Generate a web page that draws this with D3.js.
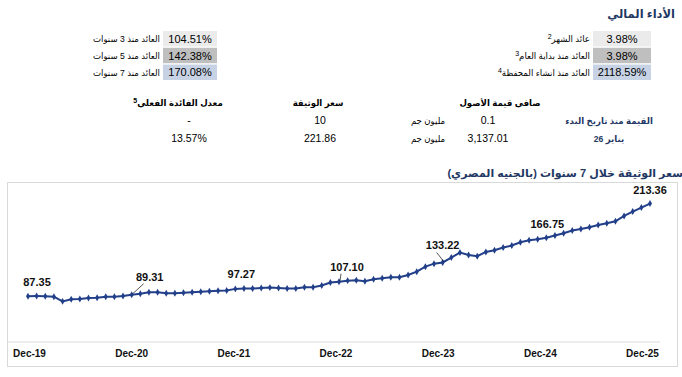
<!DOCTYPE html>
<html>
<head>
<meta charset="utf-8">
<script src="https://cdn.jsdelivr.net/npm/d3@7"></script>
<style>
  body { margin: 0; background: #fff; }
  svg { font-family: "Liberation Sans", Arial, "DejaVu Sans", sans-serif; }
</style>
</head>
<body>
<div id="chart"></div>
<script>
// performance blocks
const perfRightLabels = ["عائد الشهر", "العائد منذ بداية العام", "العائد منذ انشاء المحفظة"];
const perfRightNotes = ["2", "3", "4"];
const perfRightValues = ["3.98%", "3.98%", "2118.59%"];
const perfLeftLabels = ["العائد منذ 3 سنوات", "العائد منذ 5 سنوات", "العائد منذ 7 سنوات"];
const perfLeftValues = ["104.51%", "142.38%", "170.08%"];

// info table
const infoHeaders = ["صافي قيمة الأصول", "سعر الوثيقة", "معدل الفائدة الفعلي"];
const infoRowNames = ["القيمة منذ تاريخ البدء", "يناير 26"];
const navValues = ["0.1", "3,137.01"];
const navUnit = "مليون جم";
const unitPrices = ["10", "221.86"];
const effRates = ["-", "13.57%"];

// unit price, monthly Dec-19 .. Dec-25
const yearLabels = ["Dec-19", "Dec-20", "Dec-21", "Dec-22", "Dec-23", "Dec-24", "Dec-25"];
const prices = [
    87.35, 87.5, 87.4, 86.6, 80.3, 83.2, 83.4, 85.0, 85.2, 86.5, 86.7, 87.6,
    89.31, 90.8, 92.6, 92.7, 91.2, 91.4, 92.0, 92.7, 93.5, 94.0, 94.6, 95.2,
    97.27, 97.7, 97.7, 98.6, 99.0, 98.6, 97.9, 97.9, 99.6, 99.6, 101.8, 105.9,
    107.10, 108.5, 109.0, 107.6, 110.4, 111.7, 113.1, 113.1, 116.2, 120.7, 127.5, 131.6,
    133.22, 139.9, 146.7, 143.5, 141.7, 147.6, 149.9, 153.5, 156.3, 160.7, 163.5, 164.8,
    166.75, 169.9, 173.0, 176.7, 178.8, 181.1, 184.3, 186.6, 189.3, 196.5, 202.5, 207.9,
    213.36
];
const labelled = [0, 12, 24, 36, 48, 60, 72];

const width = 682, height = 377;
const navy = "#1f3864";
const lineColor = "#223f8a";

const svg = d3.select("#chart").append("svg")
    .attr("width", width)
    .attr("height", height);

// heading
svg.append("text")
    .attr("x", 675).attr("y", 18)
    .attr("text-anchor", "end")
    .attr("font-size", 11.5).attr("font-weight", "bold")
    .attr("fill", navy)
    .text("الأداء المالي");

// performance rows
const rowY = d3.scaleBand().domain(d3.range(3)).range([31, 80]).paddingInner(0.08);
const boxFills = ["#ebebeb", "#bfbfbf", "#c8d2e5"];

function perfBlock(boxX, boxW, labels, notes, values) {
    const g = svg.append("g");
    g.selectAll("rect").data(values).enter().append("rect")
        .attr("x", boxX).attr("y", (d, i) => rowY(i))
        .attr("width", boxW).attr("height", rowY.bandwidth())
        .attr("fill", (d, i) => boxFills[i]);
    g.selectAll(".val").data(values).enter().append("text")
        .attr("class", "val")
        .attr("x", boxX + boxW / 2).attr("y", (d, i) => rowY(i) + rowY.bandwidth() / 2 + 4)
        .attr("text-anchor", "middle").attr("font-size", 11)
        .text(d => d);
    const lab = g.selectAll(".lab").data(labels).enter().append("text")
        .attr("class", "lab")
        .attr("x", boxX - 3).attr("y", (d, i) => rowY(i) + rowY.bandwidth() / 2 + 3.5)
        .attr("text-anchor", "end").attr("font-size", 8.6);
    lab.append("tspan").text(d => d);
    if (notes) {
        lab.append("tspan").attr("font-size", 7).attr("baseline-shift", "super")
            .text((d, i) => notes[i]);
    }
}
perfBlock(593, 58, perfRightLabels, perfRightNotes, perfRightValues);
perfBlock(163, 54, perfLeftLabels, null, perfLeftValues);

// info table
const colX = [500, 318, 178];
const headG = svg.append("g");
headG.selectAll("text").data(infoHeaders).enter().append("text")
    .attr("x", (d, i) => colX[i]).attr("y", 106)
    .attr("text-anchor", "middle").attr("font-size", 8.6).attr("font-weight", "bold")
    .each(function(d, i) {
        d3.select(this).append("tspan").text(d);
        if (i === 2) d3.select(this).append("tspan").attr("font-size", 7).attr("baseline-shift", "super").text("5");
    });
const rowYs = [124, 142];
svg.selectAll(".rname").data(infoRowNames).enter().append("text")
    .attr("class", "rname")
    .attr("x", 609).attr("y", (d, i) => rowYs[i])
    .attr("text-anchor", "middle").attr("font-size", 8.6).attr("font-weight", "bold")
    .attr("fill", navy)
    .text(d => d);
svg.selectAll(".nav").data(navValues).enter().append("text")
    .attr("class", "nav")
    .attr("x", 488).attr("y", (d, i) => rowYs[i])
    .attr("text-anchor", "middle").attr("font-size", 10.5)
    .text(d => d);
svg.selectAll(".unit").data(navValues).enter().append("text")
    .attr("class", "unit")
    .attr("x", 428).attr("y", (d, i) => rowYs[i])
    .attr("text-anchor", "middle").attr("font-size", 8.6)
    .text(navUnit);
svg.selectAll(".uprice").data(unitPrices).enter().append("text")
    .attr("class", "uprice")
    .attr("x", 320).attr("y", (d, i) => rowYs[i])
    .attr("text-anchor", "middle").attr("font-size", 10.5)
    .text(d => d);
svg.selectAll(".eff").data(effRates).enter().append("text")
    .attr("class", "eff")
    .attr("x", 189).attr("y", (d, i) => rowYs[i])
    .attr("text-anchor", "middle").attr("font-size", 10.5)
    .text(d => d);

// chart title
svg.append("text")
    .attr("x", 683).attr("y", 177)
    .attr("text-anchor", "end")
    .attr("font-size", 11).attr("font-weight", "bold")
    .attr("fill", navy)
    .text("سعر الوثيقة خلال 7 سنوات (بالجنيه المصري)");

// chart frame
svg.append("rect")
    .attr("x", 7.5).attr("y", 182.5)
    .attr("width", 670).attr("height", 184)
    .attr("fill", "none").attr("stroke", "#d9d9d9");

// scales
const x = d3.scaleLinear().domain([0, prices.length - 1]).range([28, 650]);
const y = d3.scaleLinear().domain([25, 240]).range([342, 184]);
const xLab = d3.scalePoint().domain(yearLabels).range([29, 642]);

// axis
svg.append("line")
    .attr("x1", 8).attr("x2", 660)
    .attr("y1", y(25)).attr("y2", y(25))
    .attr("stroke", "#d9d9d9").attr("stroke-width", 1.2);

const axisG = svg.append("g")
    .attr("transform", `translate(0,${y(25)})`)
    .call(d3.axisBottom(xLab).tickSize(0).tickPadding(8));
axisG.select(".domain").remove();
axisG.selectAll("text")
    .attr("font-family", "Liberation Sans, Arial, sans-serif")
    .attr("font-size", 10).attr("font-weight", "bold").attr("fill", "#111");

// line
const line = d3.line().x((d, i) => x(i)).y(d => y(d));
svg.append("path")
    .datum(prices)
    .attr("d", line)
    .attr("fill", "none")
    .attr("stroke", lineColor)
    .attr("stroke-width", 2);

svg.selectAll(".pt").data(prices).enter().append("path")
    .attr("class", "pt")
    .attr("transform", (d, i) => `translate(${x(i)},${y(d)})`)
    .attr("d", d3.symbol(d3.symbolDiamond, 14))
    .attr("fill", lineColor);

// data labels (Excel-style nudges)
const nudge = {0: [9, -10], 12: [18, -14], 24: [6, -11], 36: [8, -11], 48: [0, -13], 60: [1, -10], 72: [0, -10]};
svg.selectAll(".dl").data(labelled).enter().append("text")
    .attr("class", "dl")
    .attr("x", i => x(i) + nudge[i][0])
    .attr("y", i => y(prices[i]) + nudge[i][1])
    .attr("text-anchor", "middle")
    .attr("font-size", 11).attr("font-weight", "bold").attr("fill", "#111")
    .text(i => prices[i].toFixed(2));

// leader lines
[12, 36, 48].forEach(i => {
    svg.append("line")
        .attr("x1", x(i) + 1).attr("y1", y(prices[i]) - 1)
        .attr("x2", x(i) + nudge[i][0] - 6).attr("y2", y(prices[i]) + nudge[i][1] + 3)
        .attr("stroke", "#111").attr("stroke-width", 0.7);
});
</script>
</body>
</html>
